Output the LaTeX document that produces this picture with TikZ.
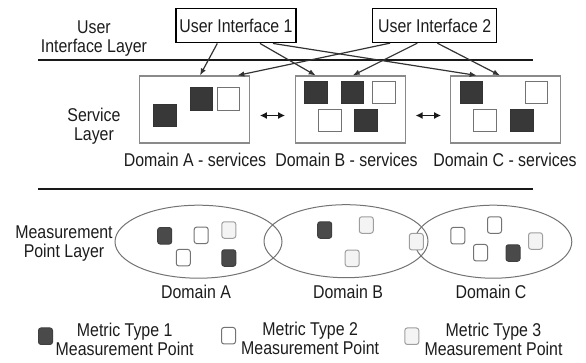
\documentclass[tikz,border=0pt]{standalone}
\usepackage{fontspec}
\setmainfont{Liberation Sans}[FakeStretch=0.86]
\usepackage{tikz}
\usetikzlibrary{arrows.meta,positioning,shapes.geometric}
\definecolor{inkgray}{HTML}{1C1C1C}
\definecolor{darkpt}{HTML}{4A4A4A}
\definecolor{boxgray}{HTML}{8A8A8A}
\definecolor{lightpt}{HTML}{F4F4F4}

\begin{document}
\begin{tikzpicture}[x=1pt, y=-1pt,
                    font=\fontsize{18.5}{19}\selectfont, text=inkgray,
                    every node/.style={inner sep=0pt},
                    uibox/.style={draw=black, line width=1.3pt, minimum height=34pt},
                    svcbox/.style={draw=boxgray, line width=1.1pt, minimum width=110pt, minimum height=67pt},
                    svcdark/.style={draw=black!80, fill=black!78, line width=0.9pt, minimum size=22.5pt},
                    svcwhite/.style={draw=black!55, fill=white, line width=1pt, minimum size=22.5pt},
                    domoval/.style={ellipse, draw=black!55, line width=1pt, minimum height=73pt},
                    mp/.style={rounded corners=2.5pt, minimum width=14pt, minimum height=16.5pt, line width=1pt},
                    mpone/.style={mp, draw=black!75, fill=darkpt},
                    mptwo/.style={mp, draw=black!55, fill=white},
                    mpthree/.style={mp, draw=black!38, fill=lightpt},
                    layername/.style={align=center, anchor=base},
                    hrule/.style={line width=1.7pt, black!90},
                    uilink/.style={-{Latex[length=7pt,width=5.5pt]}, line width=1.2pt, black!80},
                    peerlink/.style={{Latex[length=7pt,width=7pt]}-{Latex[length=7pt,width=7pt]}, line width=1.7pt, black!90}]
    \useasboundingbox (0,0) rectangle (586,362);

    % layer names on the left
    \node[layername] (uilayer) at (94,52) {User\\Interface Layer};
    \node[layername] (svclayer) at (94,140.5) {Service\\Layer};
    \node[layername] (mplayer) at (64,257) {Measurement\\Point Layer};

    % separating rules
    \coordinate (rule1w) at (38,60);
    \coordinate (rule1e) at (533,60);
    \coordinate (rule2w) at (38,189);
    \coordinate (rule2e) at (533,189);
    \draw[hrule] (rule1w) -- (rule1e);
    \draw[hrule] (rule2w) -- (rule2e);

    % user interfaces
    \node[uibox, minimum width=120pt] (ui1) at (236,25.8) {User Interface 1};
    \node[uibox, minimum width=124pt] (ui2) at (434.7,25.5) {User Interface 2};

    % service domains
    \node[svcbox] (svcA) at (194.3,109.5) {};
    \node[svcbox] (svcB) at (350.3,109.5) {};
    \node[svcbox] (svcC) at (505.7,109.5) {};
    \node[anchor=base] (svcAname) at (195,166) {Domain A - services};
    \node[anchor=base] (svcBname) at (346.5,166) {Domain B - services};
    \node[anchor=base] (svcCname) at (505,166) {Domain C - services};

    \node[svcdark]  (sa1) at (164.7,115.5) {};
    \node[svcdark]  (sa2) at (201.3,98.8) {};
    \node[svcwhite] (sa3) at (228.7,98.8) {};

    \node[svcdark]  (sb1) at (316,92.5) {};
    \node[svcdark]  (sb2) at (352.3,92.5) {};
    \node[svcwhite] (sb3) at (384,92.5) {};
    \node[svcwhite] (sb4) at (330,120.5) {};
    \node[svcdark]  (sb5) at (366,120.5) {};

    \node[svcdark]  (sc1) at (471.3,92.5) {};
    \node[svcwhite] (sc2) at (536.3,92.5) {};
    \node[svcwhite] (sc3) at (485,120.5) {};
    \node[svcdark]  (sc4) at (521.7,120.5) {};

    % interface to service links
    \draw[uilink] ([xshift=-18.7pt]ui1.south) -- ([xshift=5.7pt]svcA.north);
    \draw[uilink] ([xshift=24pt]ui1.south) -- ([xshift=-34.6pt]svcB.north);
    \draw[uilink] ([xshift=37pt]ui1.south) -- ([xshift=-29pt]svcC.north);
    \draw[uilink] ([xshift=-44.7pt]ui2.south) -- ([xshift=43pt]svcA.north);
    \draw[uilink] ([xshift=-17.4pt]ui2.south) -- ([xshift=2.4pt]svcB.north);
    \draw[uilink] ([xshift=2.6pt]ui2.south) -- ([xshift=-5.7pt]svcC.north);

    \draw[peerlink] ([xshift=10pt,yshift=-6pt]svcA.east) -- ([xshift=-9.6pt,yshift=-6pt]svcB.west);
    \draw[peerlink] ([xshift=9.7pt,yshift=-6pt]svcB.east) -- ([xshift=-9pt,yshift=-6pt]svcC.west);

    % measurement domains
    \node[domoval, minimum width=167pt] (domA) at (198.5,241.7) {};
    \node[domoval, minimum width=164pt] (domB) at (346,241.2) {};
    \node[domoval, minimum width=157pt] (domC) at (493.3,241.7) {};
    \node[anchor=base] (domAname) at (196,298.5) {Domain A};
    \node[anchor=base] (domBname) at (348,298.5) {Domain B};
    \node[anchor=base] (domCname) at (491,298.5) {Domain C};

    \node[mpone]   (ma1) at (164.7,235.8) {};
    \node[mptwo]   (ma2) at (201.2,235.3) {};
    \node[mpthree] (ma3) at (228.8,230) {};
    \node[mptwo]   (ma4) at (183.3,257.7) {};
    \node[mpone]   (ma5) at (228.8,258) {};

    \node[mpone]   (mb1) at (324.7,230) {};
    \node[mpthree] (mb2) at (366.3,225) {};
    \node[mpthree] (mb3) at (352.2,258.3) {};
    \node[mpthree] (mb4) at (416.3,241.7) {};

    \node[mptwo]   (mc1) at (457.8,235.7) {};
    \node[mptwo]   (mc2) at (494.5,225) {};
    \node[mptwo]   (mc3) at (480.5,252.7) {};
    \node[mpone]   (mc4) at (513,253) {};
    \node[mpthree] (mc5) at (535.5,241) {};

    % legend
    \node[mpone]   (key1) at (45.5,336.2) {};
    \node[mptwo]   (key2) at (228.5,335.7) {};
    \node[mpthree] (key3) at (411.8,336.2) {};
    \node[align=center, right=2.5pt of key1, yshift=-3pt] (key1txt) {Metric Type 1\\Measurement Point};
    \node[align=center, right=5pt of key2, yshift=-3pt] (key2txt) {Metric Type 2\\Measurement Point};
    \node[align=center, right=5pt of key3, yshift=-3pt] (key3txt) {Metric Type 3\\Measurement Point};
\end{tikzpicture}
\end{document}
